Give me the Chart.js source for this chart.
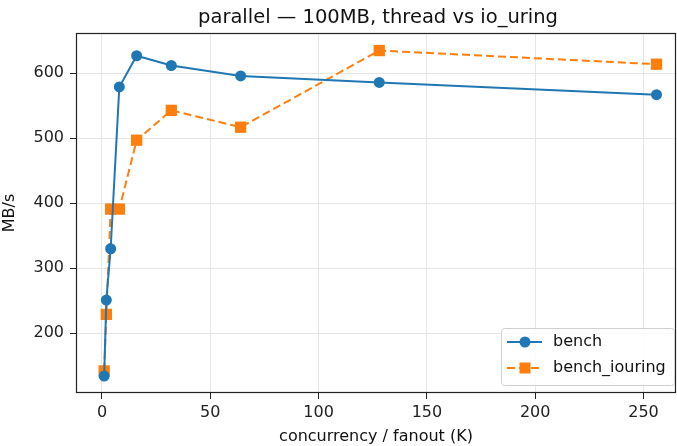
<!DOCTYPE html>
<html>
<head>
<meta charset="utf-8">
<script src="https://cdn.jsdelivr.net/npm/chart.js@4/dist/chart.umd.min.js"></script>
<style>
  html, body { margin: 0; padding: 0; background: #fff; }
  #wrap { width: 677px; height: 446px; }
</style>
</head>
<body>
<div id="wrap"><canvas id="chart"></canvas></div>
<script>
// values
const concurrency = [1, 2, 4, 8, 16, 32, 64, 128, 256];
const bench = [134, 251, 330, 579, 627, 612, 596, 586, 567];
const benchIouring = [142, 229, 391, 391, 497, 543, 517, 635, 614];
const xTicks = [0, 50, 100, 150, 200, 250];
const yTicks = [200, 300, 400, 500, 600];

const FONT = "'DejaVu Sans', sans-serif";
const BLUE = '#1f77b4';
const ORANGE = '#ff7f0e';

const toPoints = vals => vals.map((v, i) => ({ x: concurrency[i], y: v }));

// frame, title and matplotlib-like legend
const decorations = {
  id: 'decorations',
  afterDraw(chart) {
    const { ctx, chartArea: a } = chart;
    ctx.save();
    ctx.strokeStyle = '#222';
    ctx.lineWidth = 1.2;
    ctx.strokeRect(a.left + 0.5, a.top + 0.5, a.right - a.left - 1, a.bottom - a.top - 1);

    ctx.fillStyle = '#111';
    ctx.font = '19.5px ' + FONT;
    ctx.textAlign = 'center';
    ctx.textBaseline = 'middle';
    ctx.fillText('parallel \u2014 100MB, thread vs io_uring', 378, 18);

    // legend box
    const bx = a.right - 175, by = a.bottom - 65, bw = 173, bh = 57;
    ctx.fillStyle = 'rgba(255,255,255,0.85)';
    ctx.strokeStyle = '#d0d0d0';
    ctx.lineWidth = 1;
    ctx.beginPath();
    ctx.roundRect(bx + 0.5, by + 0.5, bw, bh, 3);
    ctx.fill();
    ctx.stroke();

    chart.data.datasets.forEach((ds, i) => {
      const y = by + 14 + i * 26;
      ctx.strokeStyle = ds.borderColor;
      ctx.lineWidth = 2;
      ctx.setLineDash(ds.borderDash || []);
      ctx.beginPath();
      ctx.moveTo(bx + 6, y);
      ctx.lineTo(bx + 41, y);
      ctx.stroke();
      ctx.setLineDash([]);
      ctx.fillStyle = ds.borderColor;
      if (ds.pointStyle === 'rect') {
        ctx.fillRect(bx + 24 - 5.5, y - 5.5, 11, 11);
      } else {
        ctx.beginPath();
        ctx.arc(bx + 24, y, 5.5, 0, Math.PI * 2);
        ctx.fill();
      }
      ctx.fillStyle = '#111';
      ctx.font = '16px ' + FONT;
      ctx.textAlign = 'left';
      ctx.fillText(ds.label, bx + 52, y);
    });
    ctx.restore();
  }
};

new Chart(document.getElementById('chart'), {
  type: 'line',
  data: {
    datasets: [
      {
        label: 'bench',
        data: toPoints(bench),
        borderColor: BLUE,
        backgroundColor: BLUE,
        borderWidth: 2,
        pointStyle: 'circle',
        pointRadius: 5.5,
        pointHoverRadius: 5.5,
        pointBorderWidth: 0,
        tension: 0,
      },
      {
        label: 'bench_iouring',
        data: toPoints(benchIouring),
        borderColor: ORANGE,
        backgroundColor: ORANGE,
        borderWidth: 2,
        borderDash: [8, 4],
        pointStyle: 'rect',
        pointRadius: 8,
        pointHoverRadius: 8,
        pointBorderWidth: 0,
        tension: 0,
      }
    ]
  },
  options: {
    responsive: true,
    maintainAspectRatio: false,
    animation: false,
    layout: { autoPadding: false, padding: { top: 33, right: 1, left: 0, bottom: 0 } },
    plugins: {
      legend: { display: false },
      title: { display: false },
      tooltip: { enabled: false },
    },
    scales: {
      x: {
        type: 'linear',
        min: -12,
        max: 265,
        afterBuildTicks: scale => { scale.ticks = xTicks.map(v => ({ value: v })); },
        afterFit: scale => { scale.height = 53; scale.paddingLeft = 0; scale.paddingRight = 0; },
        grid: { color: '#e6e6e6', tickColor: '#222', tickLength: 6, drawTicks: true },
        border: { display: false },
        ticks: { color: '#222', font: { family: FONT, size: 16 }, padding: 4, maxRotation: 0 },
        title: {
          display: true,
          text: 'concurrency / fanout (K)',
          color: '#111',
          font: { family: FONT, size: 16 },
          padding: { top: 0, bottom: 0 },
        },
      },
      y: {
        type: 'linear',
        min: 108,
        max: 662,
        afterBuildTicks: scale => { scale.ticks = yTicks.map(v => ({ value: v })); },
        afterFit: scale => { scale.width = 76; scale.paddingTop = 0; scale.paddingBottom = 0; },
        grid: { color: '#e6e6e6', tickColor: '#222', tickLength: 6, drawTicks: true },
        border: { display: false },
        ticks: { color: '#222', font: { family: FONT, size: 16 }, padding: 6 },
        title: {
          display: true,
          text: 'MB/s',
          color: '#111',
          font: { family: FONT, size: 16 },
          padding: { top: 0, bottom: 4 },
        },
      },
    },
  },
  plugins: [decorations],
});
</script>
</body>
</html>
